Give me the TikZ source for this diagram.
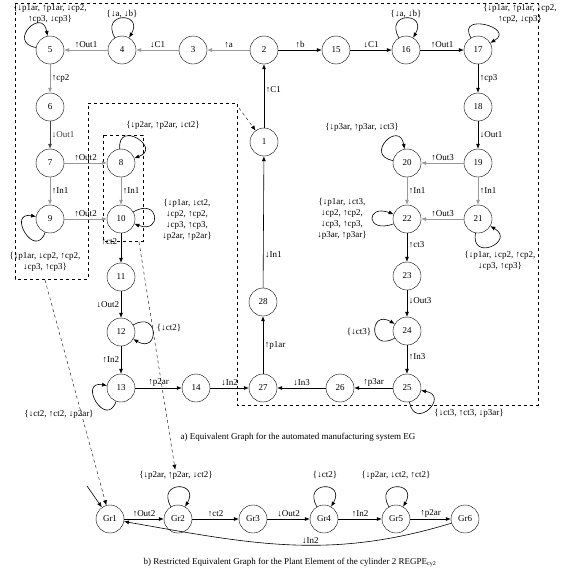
\documentclass[tikz,border=0pt]{standalone}
\usepackage{fontspec}
\setmainfont{Liberation Serif}
\usetikzlibrary{arrows.meta}

\begin{document}
\begin{tikzpicture}[
        x=1pt, y=1pt,
        font=\fontsize{9}{11}\selectfont,
        st/.style={draw, circle, minimum size=28pt, inner sep=0pt},
        arr/.style={-{Latex[length=5pt, width=4pt]}, semithick},
        gry/.style={arr, draw=black!40},
        el/.style={inner sep=1.5pt},
        lbl/.style={align=center, inner sep=1pt},
        lp/.style={arr, distance=30pt},
        grp/.style={dashed, thin},
        link/.style={-{Latex[length=5pt, width=4pt]}, dashed, thin}
    ]
    \useasboundingbox (0,0) rectangle (562,-573);

    % groups
    \draw[grp] (15,-3) -- (538,-3) -- (538,-405) -- (237,-405) -- (237,-103)
        -- (88,-103) -- (88,-279) -- (15,-279) -- cycle;
    \draw[grp] (103,-135) rectangle (143,-241);

    % states of EG
    \node[st] (n1) at (264,-142) {1};
    \node[st] (n2) at (264,-50) {2};
    \node[st] (n3) at (193,-50) {3};
    \node[st] (n4) at (122,-50) {4};
    \node[st] (n5) at (50,-50) {5};
    \node[st] (n6) at (50,-107) {6};
    \node[st] (n7) at (50,-163) {7};
    \node[st] (n8) at (121,-163) {8};
    \node[st] (n9) at (50,-219) {9};
    \node[st] (n10) at (121,-219) {10};
    \node[st] (n11) at (121,-277) {11};
    \node[st] (n12) at (121,-332) {12};
    \node[st] (n13) at (121,-388) {13};
    \node[st] (n14) at (196,-388) {14};
    \node[st] (n15) at (336,-50) {15};
    \node[st] (n16) at (406,-50) {16};
    \node[st] (n17) at (478,-50) {17};
    \node[st] (n18) at (478,-107) {18};
    \node[st] (n19) at (478,-163) {19};
    \node[st] (n20) at (407,-163) {20};
    \node[st] (n21) at (478,-219) {21};
    \node[st] (n22) at (407,-219) {22};
    \node[st] (n23) at (407,-276) {23};
    \node[st] (n24) at (407,-331) {24};
    \node[st] (n25) at (407,-388) {25};
    \node[st] (n26) at (340,-388) {26};
    \node[st] (n27) at (263,-388) {27};
    \node[st] (n28) at (263,-302) {28};

    % transitions of EG
    \draw[gry] (n2) -- node[el, above] {↑a} (n3);
    \draw[gry] (n3) -- node[el, above] {↓C1} (n4);
    \draw[gry] (n4) -- node[el, above] {↑Out1} (n5);
    \draw[gry] (n5) -- node[el, right] {↑cp2} (n6);
    \draw[arr, black!75] (n6) -- node[el, right] {↓Out1} (n7);
    \draw[gry] (n7) -- node[el, above] {↑Out2} (n8);
    \draw[gry] (n7) -- node[el, right] {↑In1} (n9);
    \draw[gry] (n9) -- node[el, above] {↑Out2} (n10);
    \draw[gry] (n8) -- node[el, right] {↑In1} (n10);
    \draw[arr] (n10) -- node[el, left=2pt, pos=0.3] {↑ct2} (n11);
    \draw[arr] (n11) -- node[el, left] {↓Out2} (n12);
    \draw[arr] (n12) -- node[el, left] {↑In2} (n13);
    \draw[arr] (n13) -- node[el, above] {↑p2ar} (n14);
    \draw[arr] (n14) -- node[el, above] {↓In2} (n27);
    \draw[arr] (n27) -- node[el, right] {↑p1ar} (n28);
    \draw[arr] (n28) -- node[el, right, pos=0.25] {↓In1} (n1);
    \draw[arr] (n1) -- node[el, right, pos=0.6] {↑C1} (n2);
    \draw[arr] (n2) -- node[el, above] {↑b} (n15);
    \draw[arr] (n15) -- node[el, above] {↓C1} (n16);
    \draw[arr] (n16) -- node[el, above] {↑Out1} (n17);
    \draw[arr] (n17) -- node[el, right] {↑cp3} (n18);
    \draw[arr] (n18) -- node[el, right] {↓Out1} (n19);
    \draw[gry] (n19) -- node[el, above] {↑Out3} (n20);
    \draw[gry] (n19) -- node[el, right] {↑In1} (n21);
    \draw[gry] (n20) -- node[el, right] {↑In1} (n22);
    \draw[gry] (n21) -- node[el, above] {↑Out3} (n22);
    \draw[arr] (n22) -- node[el, right, pos=0.4] {↑ct3} (n23);
    \draw[arr] (n23) -- node[el, right, pos=0.4] {↓Out3} (n24);
    \draw[arr] (n24) -- node[el, right, pos=0.4] {↑In3} (n25);
    \draw[arr] (n25) -- node[el, above] {↑p3ar} (n26);
    \draw[arr] (n26) -- node[el, above] {↓In3} (n27);

    % self loops of EG
    \draw[lp] (n5) to[out=170, in=100] (n5);
    \draw[lp] (n4) to[out=120, in=60] (n4);
    \draw[lp] (n16) to[out=120, in=60] (n16);
    \draw[lp] (n17) to[out=120, in=30] (n17);
    \draw[lp] (n8) to[out=95, in=20] (n8);
    \draw[lp] (n10) to[out=30, in=-20] (n10);
    \draw[lp] (n9) to[out=250, in=170] (n9);
    \draw[lp] (n12) to[out=30, in=-30] (n12);
    \draw[lp] (n13) to[out=250, in=170] (n13);
    \draw[lp] (n20) to[out=170, in=100] (n20);
    \draw[lp] (n22) to[out=200, in=160] (n22);
    \draw[lp] (n21) to[out=-100, in=-30] (n21);
    \draw[lp] (n24) to[out=210, in=150] (n24);
    \draw[lp] (n25) to[out=-80, in=-10] (n25);

    \node[lbl] (l5) at (50,-14) {\{↓p1ar, ↑p1ar, ↓cp2,\\↑cp3, ↓cp3\}};
    \node[lbl] (l4) at (122,-14) {\{↓a, ↓b\}};
    \node[lbl] (l16) at (406,-14) {\{↓a, ↓b\}};
    \node[lbl] (l17) at (520,-14) {\{↓p1ar, ↑p1ar, ↓cp2,\\↑cp2, ↓cp3\}};
    \node[lbl] (l8) at (163,-125) {\{↓p2ar, ↑p2ar, ↓ct2\}};
    \node[lbl] (l10) at (187,-220) {\{↓p1ar, ↓ct2,\\↓cp2, ↑cp2,\\↓cp3, ↑cp3,\\↓p2ar, ↑p2ar\}};
    \node[lbl] (l9) at (45,-262) {\{↓p1ar, ↓cp2, ↑cp2,\\↓cp3, ↑cp3\}};
    \node[lbl] (l12) at (169,-328) {\{↓ct2\}};
    \node[lbl] (l13) at (59,-414) {\{↓ct2, ↑ct2, ↓p2ar\}};
    \node[lbl] (l20) at (362,-127) {\{↓p3ar, ↑p3ar, ↓ct3\}};
    \node[lbl] (l22) at (342,-219) {\{↓p1ar, ↓ct3,\\↓cp2, ↑cp2,\\↓cp3, ↑cp3,\\↓p3ar, ↑p3ar\}};
    \node[lbl] (l21) at (500,-261) {\{↓p1ar, ↓cp2, ↑cp2,\\↓cp3, ↑cp3\}};
    \node[lbl] (l24) at (359,-332) {\{↓ct3\}};
    \node[lbl] (l25) at (469,-413) {\{↓ct3, ↑ct3, ↓p3ar\}};

    \node (capa) at (298,-437) {a) Equivalent Graph for the automated manufacturing system EG};

    % REGPE of cylinder 2
    \node[st] (gr1) at (110,-519) {Gr1};
    \node[st] (gr2) at (178,-519) {Gr2};
    \node[st] (gr3) at (253,-519) {Gr3};
    \node[st] (gr4) at (324,-519) {Gr4};
    \node[st] (gr5) at (396,-519) {Gr5};
    \node[st] (gr6) at (465,-519) {Gr6};
    \coordinate (init) at (87,-486);

    \draw[arr] (init) -- (gr1);
    \draw[arr] (gr1) -- node[el, above] {↑Out2} (gr2);
    \draw[arr] (gr2) -- node[el, above] {↑ct2} (gr3);
    \draw[arr] (gr3) -- node[el, above] {↓Out2} (gr4);
    \draw[arr] (gr4) -- node[el, above] {↑In2} (gr5);
    \draw[arr] (gr5) -- node[el, above] {↑p2ar} (gr6);
    \draw[arr] (gr6) to[out=197, in=-10] node[el, above, pos=0.43] {↓In2} (gr1);

    \draw[lp] (gr2) to[out=120, in=60] (gr2);
    \draw[lp] (gr4) to[out=120, in=60] (gr4);
    \draw[lp] (gr5) to[out=120, in=60] (gr5);
    \node[lbl] (lg2) at (176,-475) {\{↓p2ar, ↑p2ar, ↓ct2\}};
    \node[lbl] (lg4) at (325,-475) {\{↓ct2\}};
    \node[lbl] (lg5) at (396,-475) {\{↓p2ar, ↓ct2, ↑ct2\}};

    \node (capb) at (290,-562) {b) Restricted Equivalent Graph for the Plant Element of the cylinder 2 REGPE\textsubscript{cy2}};

    % links between the two graphs
    \coordinate (grpA) at (45,-280);
    \coordinate (grpB) at (139,-242);
    \coordinate (grpC) at (239,-108);
    \draw[link] (grpA) -- (gr1);
    \draw[link] (grpB) -- (lg2);
    \draw[link] (grpC) -- (n1);
\end{tikzpicture}
\end{document}
